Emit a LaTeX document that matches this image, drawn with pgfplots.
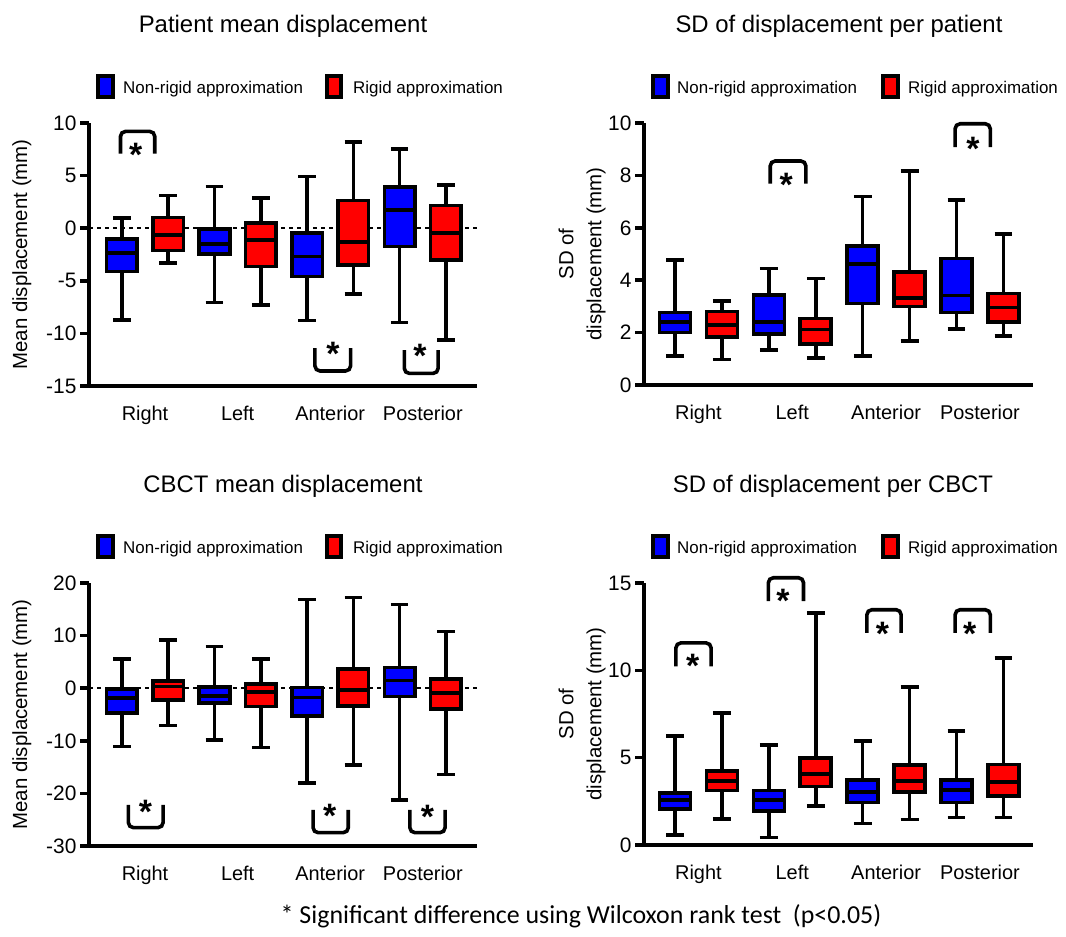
\documentclass[border=0pt]{standalone}
\usepackage{fontspec}
\setmainfont{Liberation Sans}
\newfontfamily\carlito{Carlito}
\usepackage{pgfplots}
\pgfplotsset{compat=1.18}
\usepgfplotslibrary{statistics}

\definecolor{bblue}{RGB}{0,0,255}
\definecolor{rred}{RGB}{255,0,0}

\pgfplotsset{
  panel/.style={
    scale only axis,
    axis lines=left,
    axis line style={line width=3.6bp, -},
    clip=false,
    xtick={1.5,3.5,5.5,7.5},
    xticklabels={Right,Left,Anterior,Posterior},
    x tick style={draw=none},
    y tick style={line width=3.6bp, black},
    tick align=outside,
    major tick length=9bp,
    minor tick num=0,
    /pgf/number format/assume math mode=true,
    yticklabel style={font=\fontsize{21}{24}\selectfont},
    xticklabel style={font=\fontsize{20}{24}\selectfont, yshift=-8bp},
    boxplot/draw direction=y,
    boxplot/box extend=0.66,
    boxplot/whisker extend=0.38,
  },
  bx/.style={draw=black, line width=3.6bp, solid},
}

\newcommand{\bx}[7]{\addplot[bx, fill=#1, boxplot prepared={draw position=#2, lower whisker=#3, lower quartile=#4, median=#5, upper quartile=#6, upper whisker=#7}] coordinates {};}
% x1, x2, y legs end, y bar, asterisk x, asterisk y
\newcommand{\brk}[6]{%
  \draw[line width=3.6bp, rounded corners=5bp] (axis cs:#1,#3) -- (axis cs:#1,#4) -- (axis cs:#2,#4) -- (axis cs:#2,#3);
  \node[font=\fontsize{34}{34}\selectfont\bfseries, anchor=base, inner sep=0pt, yshift=-18.7bp] at (axis cs:#5,#6) {*};
}

\begin{document}
\begin{tikzpicture}
\path[use as bounding box] (0,0) rectangle (1066bp,-937bp);

% ---------- Titles ----------
\node[anchor=base, font=\fontsize{24}{28}\selectfont] at (283bp,-32bp) {Patient mean displacement};
\node[anchor=base, font=\fontsize{24}{28}\selectfont] at (839bp,-32bp) {SD of displacement per patient};
\node[anchor=base, font=\fontsize{24}{28}\selectfont] at (283bp,-492bp) {CBCT mean displacement};
\node[anchor=base, font=\fontsize{24}{28}\selectfont] at (833bp,-492bp) {SD of displacement per CBCT};

% ---------- Legends ----------
\foreach \dy in {0,460}{
  \draw[line width=3.6bp, fill=bblue] (97.8bp,{-75.8bp-\dy bp}) rectangle (113.2bp,{-97.2bp-\dy bp});
  \node[anchor=base west, inner sep=0pt, font=\fontsize{17}{20}\selectfont] at (123bp,{-93bp-\dy bp}) {Non-rigid approximation};
  \draw[line width=3.6bp, fill=rred] (326.8bp,{-75.8bp-\dy bp}) rectangle (341.2bp,{-97.2bp-\dy bp});
  \node[anchor=base west, inner sep=0pt, font=\fontsize{17}{20}\selectfont] at (353bp,{-93bp-\dy bp}) {Rigid approximation};
  \draw[line width=3.6bp, fill=bblue] (652.8bp,{-75.8bp-\dy bp}) rectangle (668.2bp,{-97.2bp-\dy bp});
  \node[anchor=base west, inner sep=0pt, font=\fontsize{17}{20}\selectfont] at (677bp,{-93bp-\dy bp}) {Non-rigid approximation};
  \draw[line width=3.6bp, fill=rred] (882.8bp,{-75.8bp-\dy bp}) rectangle (898.2bp,{-97.2bp-\dy bp});
  \node[anchor=base west, inner sep=0pt, font=\fontsize{17}{20}\selectfont] at (908bp,{-93bp-\dy bp}) {Rigid approximation};
}

% ---------- Panel 1 ----------
\begin{axis}[panel, at={(89bp,-386bp)}, anchor=south west, width=388bp, height=263bp,
  xmin=0.29, xmax=8.67, ymin=-15, ymax=10, ytick={-15,-10,-5,0,5,10},
  ylabel={Mean displacement (mm)},
  every axis y label/.style={at={(axis description cs:-0.173,0.5)}, rotate=90, anchor=center, font=\fontsize{20.5}{24}\selectfont}]
\addplot[black, line width=2.2bp, dash pattern=on 4bp off 4bp] coordinates {(0.29,0) (8.67,0)};
\bx{bblue}{1}{-8.72}{-4.12}{-2.37}{-1.04}{0.96}
\bx{rred}{2}{-3.32}{-2.12}{-0.63}{1.02}{3.12}
\bx{bblue}{3}{-7.07}{-2.44}{-1.48}{-0.09}{3.97}
\bx{rred}{4}{-7.29}{-3.64}{-1.10}{0.48}{2.86}
\bx{bblue}{5}{-8.78}{-4.59}{-2.69}{-0.47}{4.92}
\bx{rred}{6}{-6.28}{-3.48}{-1.33}{2.64}{8.19}
\bx{bblue}{7}{-8.97}{-1.74}{1.75}{3.91}{7.53}
\bx{rred}{8}{-10.62}{-3.01}{-0.47}{2.16}{4.13}
\brk{0.97}{1.71}{7.1}{9.2}{1.30}{7.62}
\brk{5.17}{5.94}{-11.4}{-13.57}{5.56}{-11.32}
\brk{7.10}{7.83}{-11.6}{-13.8}{7.44}{-11.5}
\end{axis}

% ---------- Panel 2 ----------
\begin{axis}[panel, at={(644bp,-385bp)}, anchor=south west, width=389bp, height=262bp,
  xmin=0.34, xmax=8.63, ymin=0, ymax=10, ytick={0,2,4,6,8,10},
  ylabel={SD of\\displacement (mm)},
  every axis y label/.style={at={(axis description cs:-0.159,0.5)}, rotate=90, anchor=center, align=center, font=\fontsize{20.5}{28}\selectfont}]
\bx{bblue}{1}{1.10}{2.00}{2.41}{2.76}{4.76}
\bx{rred}{2}{0.98}{1.84}{2.29}{2.80}{3.21}
\bx{bblue}{3}{1.33}{1.94}{2.41}{3.43}{4.45}
\bx{rred}{4}{1.02}{1.56}{2.12}{2.54}{4.07}
\bx{bblue}{5}{1.10}{3.11}{4.61}{5.31}{7.20}
\bx{rred}{6}{1.69}{2.99}{3.33}{4.32}{8.16}
\bx{bblue}{7}{2.13}{2.77}{3.41}{4.83}{7.05}
\bx{rred}{8}{1.87}{2.41}{2.96}{3.49}{5.76}
\brk{3.03}{3.79}{7.69}{8.55}{3.37}{7.90}
\brk{6.97}{7.72}{9.08}{9.97}{7.35}{9.28}
\end{axis}

% ---------- Panel 3 ----------
\begin{axis}[panel, at={(89bp,-846bp)}, anchor=south west, width=388bp, height=263bp,
  xmin=0.29, xmax=8.67, ymin=-30, ymax=20, ytick={-30,-20,-10,0,10,20},
  ylabel={Mean displacement (mm)},
  every axis y label/.style={at={(axis description cs:-0.173,0.5)}, rotate=90, anchor=center, font=\fontsize{20.5}{24}\selectfont}]
\addplot[black, line width=2.2bp, dash pattern=on 4bp off 4bp] coordinates {(0.29,0) (8.67,0)};
\bx{bblue}{1}{-11.09}{-4.75}{-1.90}{-0.11}{5.60}
\bx{rred}{2}{-7.09}{-2.20}{0.33}{1.41}{9.21}
\bx{bblue}{3}{-9.82}{-2.84}{-1.45}{0.20}{7.94}
\bx{rred}{4}{-11.28}{-3.48}{-0.75}{0.77}{5.60}
\bx{bblue}{5}{-18.07}{-5.25}{-1.76}{0.10}{16.83}
\bx{rred}{6}{-14.58}{-3.35}{-0.30}{3.69}{17.21}
\bx{bblue}{7}{-21.24}{-1.57}{1.47}{3.95}{15.88}
\bx{rred}{8}{-16.42}{-3.92}{-0.94}{1.73}{10.80}
\brk{1.14}{1.89}{-22.2}{-26.5}{1.51}{-22.2}
\brk{5.13}{5.89}{-23.15}{-27.46}{5.49}{-23.0}
\brk{7.22}{7.98}{-23.15}{-27.46}{7.60}{-23.15}
\end{axis}

% ---------- Panel 4 ----------
\begin{axis}[panel, at={(644bp,-845bp)}, anchor=south west, width=389bp, height=262bp,
  xmin=0.34, xmax=8.63, ymin=0, ymax=15, ytick={0,5,10,15},
  ylabel={SD of\\displacement (mm)},
  every axis y label/.style={at={(axis description cs:-0.159,0.5)}, rotate=90, anchor=center, align=center, font=\fontsize{20.5}{28}\selectfont}]
\bx{bblue}{1}{0.57}{2.06}{2.57}{2.99}{6.25}
\bx{rred}{2}{1.49}{3.11}{3.68}{4.23}{7.57}
\bx{bblue}{3}{0.42}{1.94}{2.57}{3.11}{5.72}
\bx{rred}{4}{2.25}{3.34}{4.06}{4.99}{13.30}
\bx{bblue}{5}{1.24}{2.44}{3.05}{3.72}{5.97}
\bx{rred}{6}{1.47}{3.05}{3.68}{4.57}{9.05}
\bx{bblue}{7}{1.58}{2.44}{3.14}{3.72}{6.52}
\bx{rred}{8}{1.58}{2.82}{3.62}{4.61}{10.71}
\brk{1.02}{1.77}{10.23}{11.57}{1.38}{10.67}
\brk{2.99}{3.74}{13.97}{15.30}{3.30}{14.39}
\brk{5.09}{5.82}{12.14}{13.47}{5.42}{12.48}
\brk{6.97}{7.72}{12.14}{13.47}{7.28}{12.52}
\end{axis}

% ---------- Footnote ----------
\node[anchor=base, inner sep=0pt, font=\carlito\fontsize{26}{30}\selectfont] at (581bp,-923bp) {* Significant difference using Wilcoxon rank test\ \ (p<0.05)};
\end{tikzpicture}
\end{document}
